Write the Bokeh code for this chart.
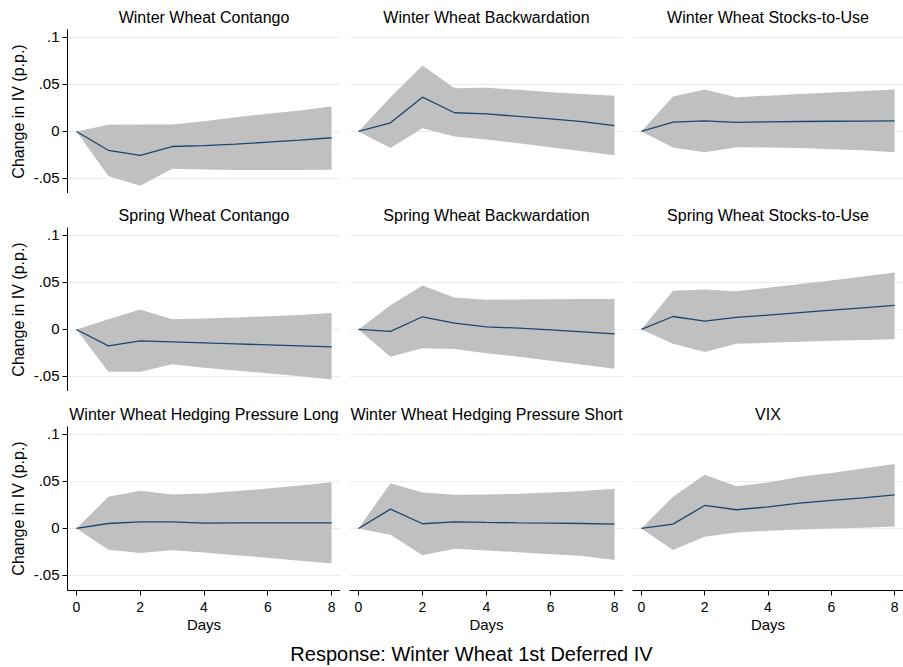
from bokeh.plotting import figure
from bokeh.layouts import gridplot, column
from bokeh.models import FixedTicker, Grid, Div, Range1d
from bokeh.embed import file_html
from bokeh.resources import INLINE

days = [0, 1, 2, 3, 4, 5, 6, 7, 8]

titles = ["Winter Wheat Contango", "Winter Wheat Backwardation", "Winter Wheat Stocks-to-Use",
          "Spring Wheat Contango", "Spring Wheat Backwardation", "Spring Wheat Stocks-to-Use",
          "Winter Wheat Hedging Pressure Long", "Winter Wheat Hedging Pressure Short", "VIX"]

ww_contango_irf = [0, -0.020, -0.0255, -0.016, -0.015, -0.0135, -0.0113, -0.0092, -0.0067]
ww_contango_hi = [0, 0.0071, 0.0074, 0.0074, 0.011, 0.0152, 0.0188, 0.0223, 0.0266]
ww_contango_lo = [0, -0.0475, -0.0578, -0.0397, -0.0405, -0.041, -0.041, -0.041, -0.0408]

ww_backw_irf = [0, 0.0092, 0.0365, 0.0199, 0.0188, 0.016, 0.0133, 0.0105, 0.0062]
ww_backw_hi = [0, 0.0365, 0.0702, 0.0461, 0.0465, 0.0443, 0.0418, 0.040, 0.038]
ww_backw_lo = [0, -0.0177, 0.0035, -0.0053, -0.0085, -0.0124, -0.0167, -0.021, -0.0252]

ww_stu_irf = [0, 0.0099, 0.0113, 0.0096, 0.0102, 0.0106, 0.0109, 0.0111, 0.0113]
ww_stu_hi = [0, 0.0372, 0.0447, 0.0365, 0.0381, 0.0398, 0.0414, 0.0431, 0.0447]
ww_stu_lo = [0, -0.017, -0.022, -0.0167, -0.017, -0.0175, -0.0188, -0.020, -0.022]

sw_contango_irf = [0, -0.0174, -0.0121, -0.0131, -0.0142, -0.0153, -0.0164, -0.0175, -0.0185]
sw_contango_hi = [0, 0.011, 0.0213, 0.011, 0.0117, 0.0128, 0.0142, 0.0155, 0.0174]
sw_contango_lo = [0, -0.045, -0.045, -0.0369, -0.0408, -0.0437, -0.0465, -0.0497, -0.0532]

sw_backw_irf = [0, -0.0021, 0.0135, 0.0067, 0.0028, 0.0014, -0.0004, -0.0025, -0.0046]
sw_backw_hi = [0, 0.0259, 0.0469, 0.0341, 0.0316, 0.032, 0.0322, 0.0323, 0.0323]
sw_backw_lo = [0, -0.0291, -0.0199, -0.0209, -0.0252, -0.0291, -0.0334, -0.0376, -0.0419]

sw_stu_irf = [0, 0.0138, 0.0089, 0.0128, 0.0153, 0.0179, 0.0205, 0.023, 0.0256]
sw_stu_hi = [0, 0.0412, 0.0426, 0.0408, 0.0444, 0.0483, 0.0522, 0.0564, 0.0607]
sw_stu_lo = [0, -0.0153, -0.0241, -0.0153, -0.0142, -0.0131, -0.012, -0.0111, -0.0103]

ww_hpl_irf = [0, 0.0053, 0.0071, 0.0071, 0.0057, 0.0059, 0.006, 0.006, 0.006]
ww_hpl_hi = [0, 0.0337, 0.0401, 0.0362, 0.0372, 0.0398, 0.0425, 0.0456, 0.0493]
ww_hpl_lo = [0, -0.0227, -0.0262, -0.0231, -0.0255, -0.0284, -0.0312, -0.0344, -0.0374]

ww_hps_irf = [0, 0.0206, 0.005, 0.0071, 0.0064, 0.006, 0.0057, 0.0053, 0.0046]
ww_hps_hi = [0, 0.0482, 0.0383, 0.0358, 0.0362, 0.0369, 0.0383, 0.040, 0.0422]
ww_hps_lo = [0, -0.0067, -0.0284, -0.0216, -0.0234, -0.0252, -0.0273, -0.0294, -0.0335]

vix_irf = [0, 0.0046, 0.0245, 0.0199, 0.023, 0.027, 0.0298, 0.0326, 0.0358]
vix_hi = [0, 0.0337, 0.0571, 0.045, 0.0489, 0.055, 0.0589, 0.0638, 0.0686]
vix_lo = [0, -0.023, -0.0089, -0.0043, -0.0025, -0.0011, 0.0, 0.0008, 0.0021]

series = [
    (ww_contango_irf, ww_contango_lo, ww_contango_hi),
    (ww_backw_irf, ww_backw_lo, ww_backw_hi),
    (ww_stu_irf, ww_stu_lo, ww_stu_hi),
    (sw_contango_irf, sw_contango_lo, sw_contango_hi),
    (sw_backw_irf, sw_backw_lo, sw_backw_hi),
    (sw_stu_irf, sw_stu_lo, sw_stu_hi),
    (ww_hpl_irf, ww_hpl_lo, ww_hpl_hi),
    (ww_hps_irf, ww_hps_lo, ww_hps_hi),
    (vix_irf, vix_lo, vix_hi),
]

y_ticks = [-0.05, 0, 0.05, 0.1]
y_tick_labels = {-0.05: "-.05", 0: "0", 0.05: ".05", 0.1: ".1"}
x_ticks = [0, 2, 4, 6, 8]

FONT = "Liberation Sans"
widths = [340, 283, 280]
left_b = [67, 9, 9]
heights = [193, 198, 244]
top_b = [29, 34, 35]
bot_b = [0, 0, 45]

rows = []
for r in range(3):
    row = []
    for c in range(3):
        i = r * 3 + c
        irf, lo, hi = series[i]
        p = figure(width=widths[c], height=heights[r],
                   x_range=Range1d(-0.28, 8.28), y_range=Range1d(-0.066, 0.1085),
                   x_axis_location="below" if r == 2 else None,
                   y_axis_location="left" if c == 0 else None,
                   output_backend="svg", toolbar_location=None, title=titles[i])
        p.min_border = 0
        p.min_border_left = left_b[c]
        p.min_border_right = 0
        p.min_border_top = top_b[r]
        p.min_border_bottom = bot_b[r]
        p.outline_line_color = None
        p.background_fill_color = "white"
        p.border_fill_color = "white"
        p.title.text_font = FONT
        p.title.text_font_size = "16px"
        p.title.text_font_style = "normal"
        p.title.text_color = "black"
        p.title.align = "center"
        p.title.standoff = 7
        p.xgrid.visible = False
        p.ygrid.visible = False
        p.add_layout(Grid(dimension=1, ticker=FixedTicker(ticks=y_ticks),
                          grid_line_color="#e6eeef", grid_line_width=1))
        p.varea(x=days, y1=lo, y2=hi, fill_color="#c0c0c0", fill_alpha=1.0)
        p.line(x=days, y=irf, line_color="#1a476f", line_width=1.3)
        if c == 0:
            ax = p.yaxis[0]
            ax.ticker = FixedTicker(ticks=y_ticks)
            ax.major_label_overrides = y_tick_labels
            ax.minor_tick_line_color = None
            ax.major_tick_in = 0
            ax.major_tick_out = 5
            ax.axis_line_color = "black"
            ax.major_tick_line_color = "black"
            ax.major_label_text_font = FONT
            ax.major_label_text_font_size = "15px"
            ax.major_label_text_color = "black"
            ax.major_label_standoff = 3
            ax.axis_label = "Change in IV (p.p.)"
            ax.axis_label_text_font = FONT
            ax.axis_label_text_font_size = "16px"
            ax.axis_label_text_font_style = "normal"
            ax.axis_label_text_color = "black"
            ax.axis_label_standoff = 4
        if r == 2:
            ax = p.xaxis[0]
            ax.ticker = FixedTicker(ticks=x_ticks)
            ax.minor_tick_line_color = None
            ax.major_tick_in = 0
            ax.major_tick_out = 5
            ax.axis_line_color = "black"
            ax.major_tick_line_color = "black"
            ax.major_label_text_font = FONT
            ax.major_label_text_font_size = "14px"
            ax.major_label_text_color = "black"
            ax.major_label_standoff = 6
            ax.axis_label = "Days"
            ax.axis_label_text_font = FONT
            ax.axis_label_text_font_size = "15px"
            ax.axis_label_text_font_style = "normal"
            ax.axis_label_text_color = "black"
            ax.axis_label_standoff = 1
        row.append(p)
    rows.append(row)

grid = gridplot(rows, toolbar_location=None)

main_title = "Response: Winter Wheat 1st Deferred IV"
div = Div(text=main_title, width=903, height=32, margin=(0, 0, 0, 0),
          styles={"font-family": FONT, "font-size": "20px", "color": "black",
                  "text-align": "center", "width": "903px", "padding-left": "40px",
                  "padding-top": "8px", "box-sizing": "border-box", "line-height": "22px"})

layout = column(grid, div, spacing=0)
open("out.html", "w").write(file_html(layout, INLINE))
